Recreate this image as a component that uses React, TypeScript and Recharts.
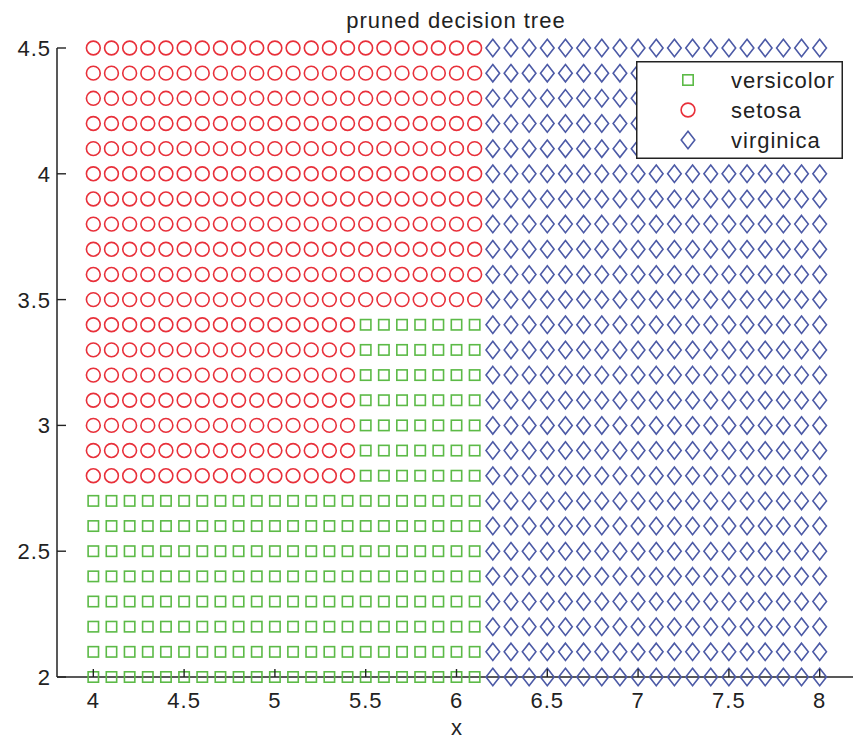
import React from 'react';
import { ScatterChart, Scatter, XAxis, YAxis, Legend } from 'recharts';

// Grid columns (x) and rows (y, top to bottom)
const xValues = [
  4.0, 4.1, 4.2, 4.3, 4.4, 4.5, 4.6, 4.7, 4.8, 4.9,
  5.0, 5.1, 5.2, 5.3, 5.4, 5.5, 5.6, 5.7, 5.8, 5.9,
  6.0, 6.1, 6.2, 6.3, 6.4, 6.5, 6.6, 6.7, 6.8, 6.9,
  7.0, 7.1, 7.2, 7.3, 7.4, 7.5, 7.6, 7.7, 7.8, 7.9,
  8.0,
];

const yValues = [
  4.5, 4.4, 4.3, 4.2, 4.1, 4.0, 3.9, 3.8, 3.7, 3.6, 3.5,
  3.4, 3.3, 3.2, 3.1, 3.0, 2.9, 2.8,
  2.7, 2.6, 2.5, 2.4, 2.3, 2.2, 2.1, 2.0,
];

// Predicted class per grid cell, one string per y row (columns grouped by 10 with '|')
// s = versicolor, o = setosa, d = virginica
const classRows = [
  'oooooooooo|oooooooooo|oodddddddd|dddddddddd|d', // 4.5
  'oooooooooo|oooooooooo|oodddddddd|dddddddddd|d', // 4.4
  'oooooooooo|oooooooooo|oodddddddd|dddddddddd|d', // 4.3
  'oooooooooo|oooooooooo|oodddddddd|dddddddddd|d', // 4.2
  'oooooooooo|oooooooooo|oodddddddd|dddddddddd|d', // 4.1
  'oooooooooo|oooooooooo|oodddddddd|dddddddddd|d', // 4.0
  'oooooooooo|oooooooooo|oodddddddd|dddddddddd|d', // 3.9
  'oooooooooo|oooooooooo|oodddddddd|dddddddddd|d', // 3.8
  'oooooooooo|oooooooooo|oodddddddd|dddddddddd|d', // 3.7
  'oooooooooo|oooooooooo|oodddddddd|dddddddddd|d', // 3.6
  'oooooooooo|oooooooooo|oodddddddd|dddddddddd|d', // 3.5
  'oooooooooo|ooooosssss|ssdddddddd|dddddddddd|d', // 3.4
  'oooooooooo|ooooosssss|ssdddddddd|dddddddddd|d', // 3.3
  'oooooooooo|ooooosssss|ssdddddddd|dddddddddd|d', // 3.2
  'oooooooooo|ooooosssss|ssdddddddd|dddddddddd|d', // 3.1
  'oooooooooo|ooooosssss|ssdddddddd|dddddddddd|d', // 3.0
  'oooooooooo|ooooosssss|ssdddddddd|dddddddddd|d', // 2.9
  'oooooooooo|ooooosssss|ssdddddddd|dddddddddd|d', // 2.8
  'ssssssssss|ssssssssss|ssdddddddd|dddddddddd|d', // 2.7
  'ssssssssss|ssssssssss|ssdddddddd|dddddddddd|d', // 2.6
  'ssssssssss|ssssssssss|ssdddddddd|dddddddddd|d', // 2.5
  'ssssssssss|ssssssssss|ssdddddddd|dddddddddd|d', // 2.4
  'ssssssssss|ssssssssss|ssdddddddd|dddddddddd|d', // 2.3
  'ssssssssss|ssssssssss|ssdddddddd|dddddddddd|d', // 2.2
  'ssssssssss|ssssssssss|ssdddddddd|dddddddddd|d', // 2.1
  'ssssssssss|ssssssssss|ssdddddddd|dddddddddd|d', // 2.0
];

const classNames = ['versicolor', 'setosa', 'virginica'];
const classCodes = ['s', 'o', 'd'];
const classColors = ['#5cba47', '#e8303a', '#4c5aa6'];

const xTicks = [4, 4.5, 5, 5.5, 6, 6.5, 7, 7.5, 8];
const yTicks = [2, 2.5, 3, 3.5, 4, 4.5];

const titleText = 'pruned decision tree';
const xLabelText = 'x';

const FONT = '"Liberation Sans", Arial, Helvetica, sans-serif';
const FS = 22;
const LS = 1;
const AXIS = '#222';

const seriesData = classCodes.map((code) => {
  const pts: { x: number; y: number }[] = [];
  classRows.forEach((row, i) => {
    row
      .replace(/\|/g, '')
      .split('')
      .forEach((c, j) => {
        if (c === code) pts.push({ x: xValues[j], y: yValues[i] });
      });
  });
  return pts;
});

const drawMarker = (code: string, cx: number, cy: number, color: string) => {
  if (code === 's') {
    return (
      <rect x={cx - 5.2} y={cy - 5.2} width={10.4} height={10.4} fill="none" stroke={color} strokeWidth={1.6} />
    );
  }
  if (code === 'o') {
    return <circle cx={cx} cy={cy} r={6.9} fill="none" stroke={color} strokeWidth={1.6} />;
  }
  return (
    <path
      d={`M${cx},${cy - 8.7}L${cx + 6.8},${cy}L${cx},${cy + 8.7}L${cx - 6.8},${cy}Z`}
      fill="none"
      stroke={color}
      strokeWidth={1.6}
    />
  );
};

const XTick = (props: any) => {
  const { x, y, payload } = props;
  return (
    <g>
      <line x1={x} x2={x} y1={y} y2={y - 8} stroke={AXIS} strokeWidth={1.4} />
      <text x={x} y={y + 31} textAnchor="middle" fontSize={FS} letterSpacing={LS} fontFamily={FONT} fill="#222">
        {String(payload.value)}
      </text>
    </g>
  );
};

const YTick = (props: any) => {
  const { x, y, payload } = props;
  return (
    <g>
      <line x1={x} x2={x + 9} y1={y} y2={y} stroke={AXIS} strokeWidth={1.4} />
      <text x={x - 6} y={y + 8} textAnchor="end" fontSize={FS} letterSpacing={LS} fontFamily={FONT} fill="#222">
        {String(payload.value)}
      </text>
    </g>
  );
};

const LegendBox = () => (
  <svg width={207} height={98} style={{ display: 'block' }}>
    <rect x={0.75} y={0.75} width={205.5} height={96.5} fill="#fff" stroke={AXIS} strokeWidth={1.5} />
    {classNames.map((name, i) => (
      <g key={name}>
        {drawMarker(classCodes[i], 52, 19 + i * 30, classColors[i])}
        <text x={95} y={27 + i * 30} fontSize={FS} letterSpacing={LS} fontFamily={FONT} fill="#222">
          {name}
        </text>
      </g>
    ))}
  </svg>
);

export default function App() {
  return (
    <div
      style={{
        position: 'absolute',
        left: 0,
        top: 0,
        width: 853,
        height: 741,
        overflow: 'hidden',
        background: '#fff',
      }}
    >
      <ScatterChart width={880} height={741} margin={{ top: 48, right: 24, bottom: 0, left: 0 }}>
        <XAxis
          type="number"
          dataKey="x"
          domain={[3.8, 8.2]}
          ticks={xTicks}
          interval={0}
          height={64}
          tickSize={0}
          tickMargin={0}
          tickLine={false}
          axisLine={{ stroke: AXIS, strokeWidth: 1.5 }}
          tick={(p: any) => <XTick {...p} />}
        />
        <YAxis
          type="number"
          dataKey="y"
          domain={[2, 4.5]}
          ticks={yTicks}
          interval={0}
          width={57}
          tickSize={0}
          tickMargin={0}
          tickLine={false}
          axisLine={{ stroke: AXIS, strokeWidth: 1.5 }}
          tick={(p: any) => <YTick {...p} />}
        />
        {classNames.map((name, i) => (
          <Scatter
            key={name}
            name={name}
            data={seriesData[i]}
            fill={classColors[i]}
            isAnimationActive={false}
            shape={(p: any) => drawMarker(classCodes[i], p.cx, p.cy, classColors[i])}
          />
        ))}
        <Legend
          layout="vertical"
          align="center"
          verticalAlign="middle"
          wrapperStyle={{ position: 'absolute', left: 636, top: 61, width: 207, height: 98 }}
          content={() => <LegendBox />}
        />
      </ScatterChart>
      <svg
        width={853}
        height={741}
        style={{ position: 'absolute', left: 0, top: 0, pointerEvents: 'none' }}
      >
        <text x={456} y={28} textAnchor="middle" fontSize={FS} letterSpacing={LS} fontFamily={FONT} fill="#222">
          {titleText}
        </text>
        <text x={457} y={735} textAnchor="middle" fontSize={FS} letterSpacing={LS} fontFamily={FONT} fill="#222">
          {xLabelText}
        </text>
      </svg>
    </div>
  );
}
